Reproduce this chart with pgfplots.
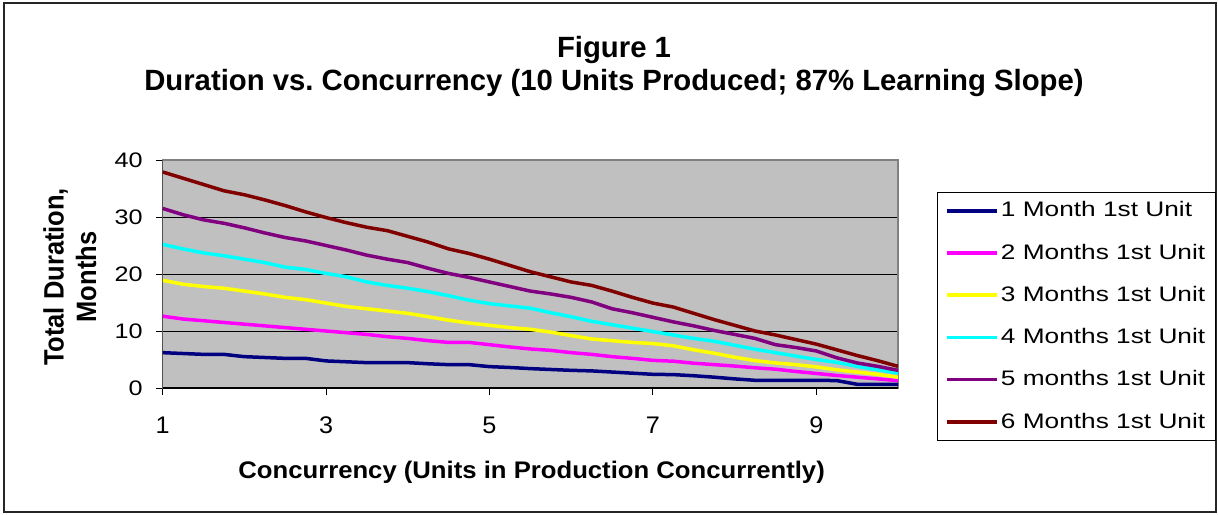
\documentclass[border=0pt]{standalone}
\usepackage{pgfplots}
\usepackage{pgfplotstable}
\pgfplotsset{compat=1.18}
\usepackage{fontspec}
\setmainfont{Liberation Sans}
\newfontfamily\legfont[FakeStretch=1.25]{Liberation Sans}
\newfontfamily\ytfont[FakeStretch=1.2]{Liberation Sans}
\newfontfamily\xtfont[FakeStretch=1.05]{Liberation Sans}
\newfontfamily\ylfont[FakeStretch=0.91]{Liberation Sans}
\newfontfamily\xlfont[FakeStretch=1.07]{Liberation Sans}
\definecolor{sNavy}{RGB}{0,0,128}
\definecolor{sMag}{RGB}{255,0,255}
\definecolor{sYel}{RGB}{255,255,0}
\definecolor{sCyan}{RGB}{0,255,255}
\definecolor{sPur}{RGB}{128,0,128}
\definecolor{sRed}{RGB}{128,0,0}
\definecolor{plotbg}{RGB}{192,192,192}
\definecolor{frameg}{RGB}{128,128,128}

\pgfplotstableread{
x     a     b     c     d     e     f
1     6.2   12.6  18.9  25.2  31.5  37.9
1.25  6.05  12.1  18.2  24.4  30.4  36.8
1.5   5.9   11.8  17.8  23.7  29.5  35.7
1.75  5.9   11.5  17.5  23.2  28.9  34.6
2     5.5   11.2  17.0  22.6  28.1  33.9
2.25  5.35  10.9  16.5  22.0  27.2  33.0
2.5   5.2   10.6  15.9  21.2  26.4  32.0
2.75  5.2   10.3  15.5  20.8  25.8  30.9
3     4.75  10.0  14.9  20.1  25.0  29.9
3.25  4.6   9.7   14.3  19.5  24.2  29.0
3.5   4.45  9.4   13.9  18.6  23.3  28.2
3.75  4.45  9.0   13.5  18.0  22.6  27.6
4     4.45  8.7   13.1  17.5  22.0  26.6
4.25  4.25  8.3   12.5  16.9  21.0  25.6
4.5   4.1   8.0   11.9  16.2  20.1  24.4
4.75  4.1   8.0   11.4  15.4  19.4  23.6
5     3.75  7.6   11.0  14.8  18.6  22.6
5.25  3.6   7.2   10.6  14.4  17.8  21.5
5.5   3.4   6.85  10.3  14.0  17.0  20.4
5.75  3.25  6.6   9.8   13.2  16.5  19.5
6     3.1   6.2   9.2   12.5  15.9  18.6
6.25  3.0   5.9   8.6   11.7  15.1  18.0
6.5   2.8   5.5   8.3   11.1  13.9  17.0
6.75  2.6   5.2   8.0   10.5  13.2  15.9
7     2.4   4.85  7.8   9.9   12.4  14.9
7.25  2.35  4.7   7.4   9.3   11.6  14.2
7.5   2.15  4.35  6.7   8.7   10.9  13.1
7.75  1.9   4.1   6.1   8.2   10.1  12.0
8     1.6   3.85  5.4   7.5   9.4   11.0
8.25  1.35  3.55  4.8   6.8   8.7   10.0
8.5   1.35  3.3   4.4   6.2   7.6   9.3
8.75  1.35  2.9   4.1   5.6   7.1   8.5
9     1.35  2.55  3.7   5.0   6.5   7.7
9.25  1.3   2.2   3.2   4.5   5.3   6.7
9.5   0.65  1.9   2.8   3.8   4.4   5.7
9.75  0.65  1.6   2.4   3.2   3.8   4.8
10    0.65  1.3   1.9   2.6   3.1   3.8
}\datatab

\begin{document}
\frenchspacing
\begin{tikzpicture}
\useasboundingbox (-81.35pt,-63pt) rectangle (527.65pt,194pt);
\fill[white] (-81.35pt,-63pt) rectangle (527.65pt,194pt);
\draw[black!85, line width=1pt] (-79.1pt,-62pt) rectangle (526.65pt,192.25pt);
\begin{axis}[
  at={(0pt,0pt)}, anchor=south west,
  width=367.65pt, height=114pt, scale only axis,
  xmin=1, xmax=10, ymin=0, ymax=40,
  xtick={1,3,5,7,9}, ytick={0,10,20,30,40},
  xtick pos=lower, ytick pos=left,
  ymajorgrids, major grid style={black, line width=0.5pt},
  axis background/.style={fill=plotbg},
  axis line style={draw=frameg, line width=0.75pt},
  tick align=outside, major tick length=3.5pt,
  tick style={black, line width=0.5pt},
  /pgf/number format/assume math mode=true,
  xticklabel style={font=\xtfont\fontsize{12}{14}\selectfont, inner sep=0pt, anchor=center, yshift=-15pt},
  yticklabel style={font=\ytfont\fontsize{10.5}{12}\selectfont, inner sep=0pt, anchor=east, xshift=-6.35pt},
  ylabel={Total Duration,\\Months},
  ylabel style={at={(axis description cs:-0.1261,0.487)}, anchor=center, align=center,
     font=\ylfont\bfseries\fontsize{14}{16.25}\selectfont},
  xlabel={Concurrency (Units in Production Concurrently)},
  xlabel style={at={(axis description cs:0.5017,0)}, anchor=base, yshift=-45pt,
     font=\xlfont\bfseries\fontsize{12}{14}\selectfont},
  legend style={at={(1.053,0.861)}, anchor=north west, draw=black, line width=0.5pt,
     fill=white, font=\legfont\fontsize{10.5}{12}\selectfont,
     row sep=9.5pt, inner xsep=3.75pt, inner ysep=3.5pt,
     nodes={inner sep=1.25pt}, column sep=0pt},
  legend cell align=left,
  legend image code/.code={\draw[#1] (0pt,0pt) -- (25pt,0pt);},
  every axis plot/.append style={line width=1.75pt, line join=round},
]
\addplot[sNavy] table[x=x,y=a]{\datatab};
\addplot[sMag] table[x=x,y=b]{\datatab};
\addplot[sYel] table[x=x,y=c]{\datatab};
\addplot[sCyan] table[x=x,y=d]{\datatab};
\addplot[sPur] table[x=x,y=e]{\datatab};
\addplot[sRed] table[x=x,y=f]{\datatab};
\legend{1 Month 1st Unit, 2 Months 1st Unit, 3 Months 1st Unit, 4 Months 1st Unit, 5 months 1st Unit, 6 Months 1st Unit}
\draw[black, line width=0.75pt] (rel axis cs:0,1) -- (rel axis cs:0,0) -- (rel axis cs:1,0);
\end{axis}
\node[anchor=base, inner sep=0pt, font=\bfseries\fontsize{14.65}{17}\selectfont] at (225.65pt,165pt) {Figure 1};
\node[anchor=base, inner sep=0pt, font=\bfseries\fontsize{14.65}{17}\selectfont] at (225.65pt,148.5pt) {Duration vs.\ Concurrency (10 Units Produced; 87\% Learning Slope)};
\end{tikzpicture}
\end{document}
